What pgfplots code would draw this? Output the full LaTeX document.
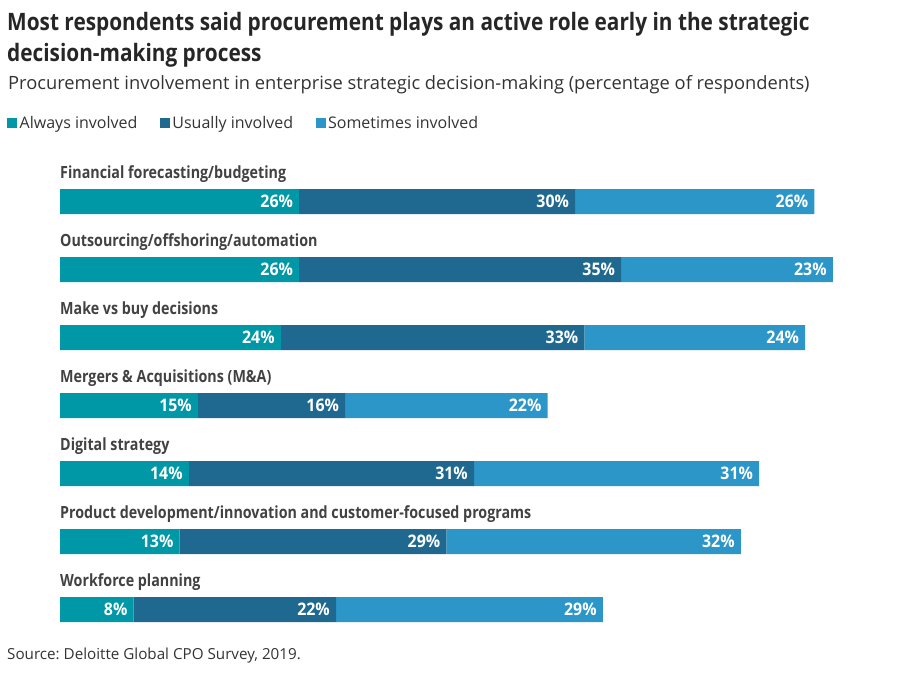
\documentclass[border=0pt]{standalone}
\usepackage{fontspec}
\setmainfont{Open Sans}
\newfontfamily\titlefont{Open Sans}[FakeStretch=0.867]
\newfontfamily\catfont{Open Sans}[FakeStretch=0.85]
\newfontfamily\valfont{Open Sans}[FakeStretch=0.92]
\usepackage{pgfplots}
\usepackage{pgfplotstable}
\pgfplotsset{compat=1.18}
\frenchspacing
\definecolor{alw}{HTML}{0097A7}
\definecolor{usu}{HTML}{1F6991}
\definecolor{som}{HTML}{2B96C7}
\definecolor{titlec}{HTML}{262626}
\definecolor{textc}{HTML}{333333}
\definecolor{catc}{HTML}{424242}
\tikzset{catlab/.style={anchor=base west, inner sep=0pt, yshift=23.2pt, text=catc, font=\catfont\bfseries\fontsize{16.8}{20}\selectfont}}
\pgfplotstableread{
y a u s
1 26 30 26
2 26 35 23
3 24 33 24
4 15 16 22
5 14 31 31
6 13 29 32
7 8 22 29
}\chartdata
\begin{document}
\frenchspacing
\begin{tikzpicture}
\path[use as bounding box] (0,0) rectangle (900pt,-676pt);
\node[anchor=base west, inner sep=0pt, text=titlec, font=\titlefont\bfseries\fontsize{24}{30}\selectfont] at (7pt,-30.7pt) {Most respondents said procurement plays an active role early in the strategic};
\node[anchor=base west, inner sep=0pt, text=titlec, font=\titlefont\bfseries\fontsize{24}{30}\selectfont] at (7pt,-61.7pt) {decision-making process};
\node[anchor=base west, inner sep=0pt, text=textc, font=\fontsize{18.3}{22}\selectfont] at (8pt,-90pt) {Procurement involvement in enterprise strategic decision-making (percentage of respondents)};
\node[anchor=base west, inner sep=0pt, text=textc, font=\fontsize{15.2}{19}\selectfont] at (7pt,-659pt) {Source: Deloitte Global CPO Survey, 2019.};
\begin{axis}[
  at={(60pt,-167.5pt)}, anchor=north west,
  scale only axis, width=828pt, height=476pt,
  xmin=0, xmax=90, ymin=0.5, ymax=7.5,
  y dir=reverse,
  hide axis, clip=false,
  xbar stacked, bar width=25pt,
  point meta=explicit,
  nodes near coords={\pgfmathprintnumber[assume math mode=true]{\pgfplotspointmeta}\%},
  every node near coord/.append style={anchor=east, xshift={\segval*4.6pt-6pt}, text=white, inner sep=0pt,
     font=\valfont\bfseries\fontsize{17.3}{20}\selectfont},
  legend columns=-1,
  legend style={at={(axis description cs:-0.0640,1.0935)}, anchor=west, draw=none, fill=none,
     inner sep=0pt, font=\fontsize{16}{19}\selectfont, text=textc,
     nodes={inner xsep=2.5pt, inner ysep=0pt},
     /tikz/every even column/.append style={column sep=20pt}},
  legend image code/.code={\fill[#1, draw=none] (0pt,-5pt) rectangle (10pt,5pt);},
]
\addplot[fill=alw, draw=none, visualization depends on={\thisrow{a} \as \segval}] table[x=a, y=y, meta=a] {\chartdata};
\addplot[fill=usu, draw=none, visualization depends on={\thisrow{u} \as \segval}] table[x=u, y=y, meta=u] {\chartdata};
\addplot[fill=som, draw=none, visualization depends on={\thisrow{s} \as \segval}] table[x=s, y=y, meta=s] {\chartdata};
\legend{Always involved, Usually involved, Sometimes involved}
\node[catlab] at (axis cs:0,1) {Financial forecasting/budgeting};
\node[catlab] at (axis cs:0,2) {Outsourcing/offshoring/automation};
\node[catlab] at (axis cs:0,3) {Make vs buy decisions};
\node[catlab] at (axis cs:0,4) {Mergers \& Acquisitions (M\&A)};
\node[catlab] at (axis cs:0,5) {Digital strategy};
\node[catlab] at (axis cs:0,6) {Product development/innovation and customer-focused programs};
\node[catlab] at (axis cs:0,7) {Workforce planning};
\end{axis}
\end{tikzpicture}
\end{document}
